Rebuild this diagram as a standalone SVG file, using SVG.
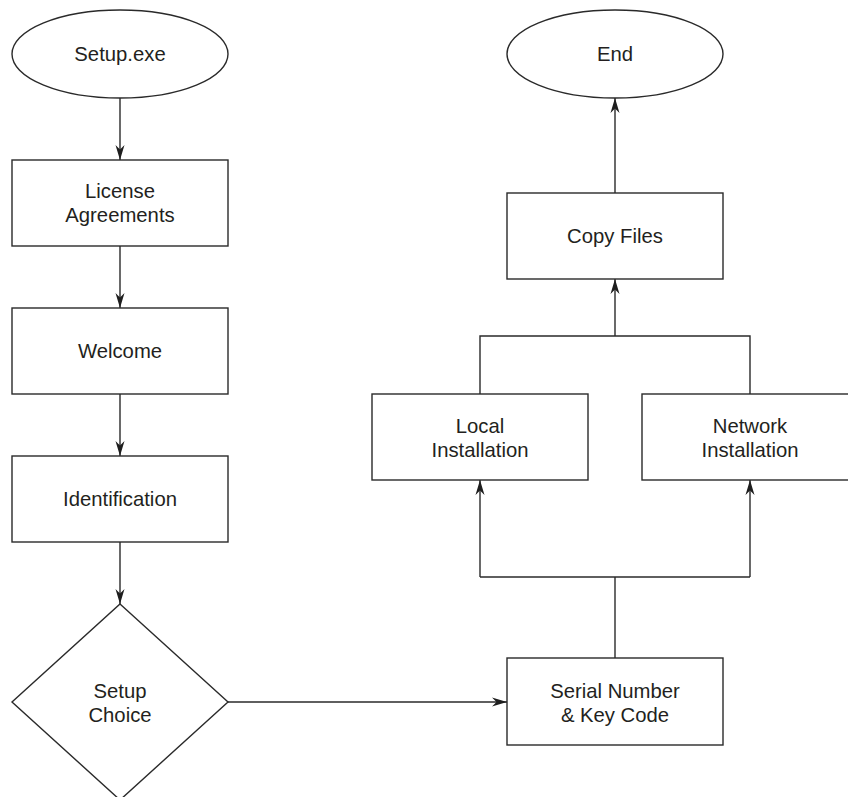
<svg xmlns="http://www.w3.org/2000/svg" width="848" height="797" viewBox="0 0 848 797">
<style>
.shape{fill:#fff;stroke:#2a2a2a;stroke-width:1.4}
.edge{fill:none;stroke:#2a2a2a;stroke-width:1.4}
text{font-family:"Liberation Sans",Arial,Helvetica,sans-serif;font-size:20.3px;fill:#231f20;text-anchor:middle}
</style>
<defs>
<marker id="arr" markerUnits="userSpaceOnUse" markerWidth="17" markerHeight="12" refX="15" refY="6" orient="auto">
<path d="M0,1.5 L15,6 L0,10.5 L4.5,6 z" fill="#1e1e1e"/>
</marker>
</defs>
<rect width="848" height="797" fill="#fff"/>
<g id="connectors">
<path class="edge" d="M120,98 V160" marker-end="url(#arr)"/>
<path class="edge" d="M120,246 V308" marker-end="url(#arr)"/>
<path class="edge" d="M120,394 V456" marker-end="url(#arr)"/>
<path class="edge" d="M120,542 V604" marker-end="url(#arr)"/>
<path class="edge" d="M228,702 H507" marker-end="url(#arr)"/>
<path class="edge" d="M615,658 V577"/>
<path class="edge" d="M480,577 H750"/>
<path class="edge" d="M480,577 V480" marker-end="url(#arr)"/>
<path class="edge" d="M750,577 V480" marker-end="url(#arr)"/>
<path class="edge" d="M480,394 V336 H750 V394"/>
<path class="edge" d="M615,336 V279" marker-end="url(#arr)"/>
<path class="edge" d="M615,193 V98" marker-end="url(#arr)"/>
</g>
<g id="setup-exe">
<ellipse class="shape" cx="120" cy="54" rx="108" ry="44"/>
<text x="120" y="61">Setup.exe</text>
</g>
<g id="license">
<rect class="shape" x="12" y="160" width="216" height="86"/>
<text x="120" y="198">License</text>
<text x="120" y="222">Agreements</text>
</g>
<g id="welcome">
<rect class="shape" x="12" y="308" width="216" height="86"/>
<text x="120" y="358">Welcome</text>
</g>
<g id="identification">
<rect class="shape" x="12" y="456" width="216" height="86"/>
<text x="120" y="506">Identification</text>
</g>
<g id="setup-choice">
<polygon class="shape" points="120,604 228,702 120,800 12,702"/>
<text x="120" y="698">Setup</text>
<text x="120" y="722">Choice</text>
</g>
<g id="serial">
<rect class="shape" x="507" y="658" width="216" height="87"/>
<text x="615" y="698">Serial Number</text>
<text x="615" y="722">&amp; Key Code</text>
</g>
<g id="local">
<rect class="shape" x="372" y="394" width="216" height="86"/>
<text x="480" y="433">Local</text>
<text x="480" y="457">Installation</text>
</g>
<g id="network">
<rect class="shape" x="642" y="394" width="216" height="86"/>
<text x="750" y="433">Network</text>
<text x="750" y="457">Installation</text>
</g>
<g id="copy-files">
<rect class="shape" x="507" y="193" width="216" height="86"/>
<text x="615" y="243">Copy Files</text>
</g>
<g id="end">
<ellipse class="shape" cx="615" cy="54" rx="108" ry="44"/>
<text x="615" y="61">End</text>
</g>
</svg>
